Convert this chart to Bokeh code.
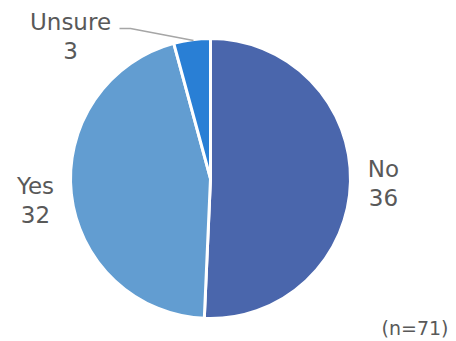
import numpy as np
from bokeh.plotting import figure
from bokeh.models import ColumnDataSource
from bokeh.core.properties import value
from bokeh.embed import file_html
from bokeh.resources import INLINE

categories = ["No", "Yes", "Unsure"]
counts = [36, 32, 3]
colors = ["#4A66AC", "#629DD1", "#297FD5"]
note = "(n=71)"

W, H = 456, 341
cx, cy, R = 210, 178, 140

vals = np.array(counts, dtype=float)
frac = vals / vals.sum()
cum = np.concatenate([[0], np.cumsum(frac)])
# clockwise from 12 o'clock
start = np.pi / 2 - cum[1:] * 2 * np.pi
end = np.pi / 2 - cum[:-1] * 2 * np.pi

src = ColumnDataSource(dict(x=[cx] * 3, y=[H - cy] * 3, start=start, end=end,
                            color=colors, cat=categories, n=counts))

p = figure(width=W, height=H, x_range=(0, W), y_range=(0, H),
           output_backend="svg", toolbar_location=None, min_border=0,
           match_aspect=False)
p.axis.visible = False
p.grid.visible = False
p.outline_line_color = None
p.background_fill_color = "white"

p.wedge(x="x", y="y", radius=R, start_angle="start", end_angle="end",
        fill_color="color", line_color="white", line_width=3, source=src)

# labels (positions in pixel coords, top-left origin)
lab_pos = [(383, 168), (35, 185), (70, 21)]
tc = "#595959"
for (lx, ly), c, n in zip(lab_pos, categories, counts):
    p.text(x=[lx], y=[H - ly], text=[c], text_align="center", text_baseline="middle",
           text_font=value("DejaVu Sans"), text_font_size="23px", text_color=tc)
    p.text(x=[lx], y=[H - ly - 29], text=[str(n)], text_align="center", text_baseline="middle",
           text_font=value("DejaVu Sans"), text_font_size="23px", text_color=tc)

# leader line for Unsure
p.line(x=[119, 130, 193], y=[H - 28, H - 28, H - 40], line_color="#A6A6A6", line_width=1.5)

p.text(x=[448], y=[H - 327], text=[note], text_align="right", text_baseline="middle",
       text_font=value("DejaVu Sans"), text_font_size="19px", text_color=tc)

open("out.html", "w").write(file_html(p, INLINE))
